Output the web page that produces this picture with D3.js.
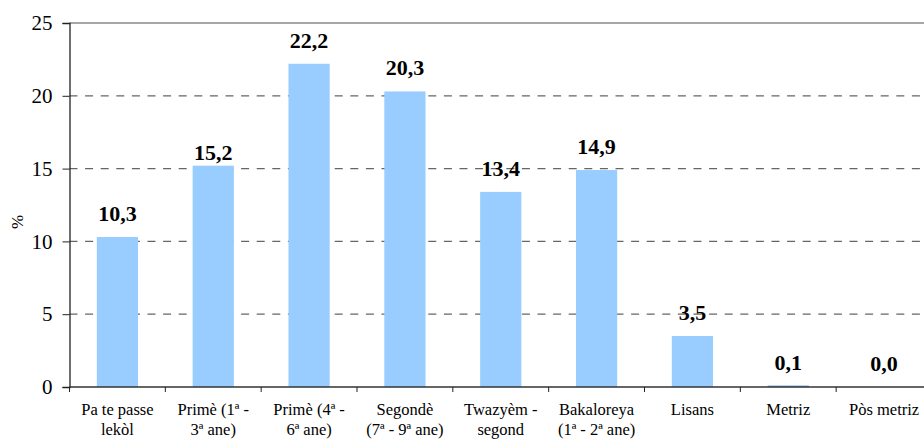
<!DOCTYPE html>
<html><head><meta charset="utf-8">
<script src="https://cdn.jsdelivr.net/npm/d3@7"></script>
<style>body{margin:0;background:#fff}svg{display:block}text{font-family:"Liberation Serif" !important}</style>
</head><body>
<script>
const categories = [
  ["Pa te passe", "lekòl"],
  ["Primè (1ª -", "3ª ane)"],
  ["Primè (4ª -", "6ª ane)"],
  ["Segondè", "(7ª - 9ª ane)"],
  ["Twazyèm -", "segond"],
  ["Bakaloreya", "(1ª - 2ª ane)"],
  ["Lisans"],
  ["Metriz"],
  ["Pòs metriz"]
];
const values = [10.3, 15.2, 22.2, 20.3, 13.4, 14.9, 3.5, 0.1, 0.0];
const yTicks = [0, 5, 10, 15, 20, 25];
const yTitle = "%";

const W = 924, H = 439;
const pLeft = 69.5, pRight = 932, pTop = 23, pBottom = 387;
const svg = d3.select("body").append("svg").attr("width", W).attr("height", H)
  .attr("font-family", "Liberation Serif");
const idx = values.map((d, i) => i);
const x = d3.scaleBand().domain(idx).range([pLeft, pRight]).paddingInner(0.57).paddingOuter(0.285);
const xo = d3.scaleBand().domain(idx).range([pLeft, pRight]).padding(0);
const y = d3.scaleLinear().domain([0, 25]).range([pBottom, pTop]);

svg.append("g").selectAll("line").data(yTicks.filter(t => t > 0 && t < 25)).join("line")
  .attr("x1", pLeft).attr("x2", W).attr("y1", d => y(d)).attr("y2", d => y(d))
  .attr("stroke", "#666").attr("stroke-width", 1.3).attr("stroke-dasharray", "8,7.6");
svg.append("line").attr("x1", pLeft).attr("x2", W).attr("y1", y(25)).attr("y2", y(25))
  .attr("stroke", "#888").attr("stroke-width", 1.5);

svg.append("g").selectAll("rect").data(values).join("rect")
  .attr("x", (d, i) => x(i)).attr("width", x.bandwidth())
  .attr("y", d => y(d)).attr("height", d => pBottom - y(d))
  .attr("fill", d => d < 0.5 ? "#6fa8e6" : "#99ccff");

svg.append("g").selectAll("text").data(values).join("text")
  .attr("x", (d, i) => x(i) + x.bandwidth() / 2)
  .attr("y", (d, i) => y(d) - (i === 1 ? 6 : 16))
  .attr("text-anchor", "middle")
  .attr("font-weight", "bold").attr("font-size", 22)
  .attr("fill", "#000")
  .text(d => d3.format(".1f")(d).replace(".", ","));

const gy = svg.append("g").attr("transform", `translate(${pLeft},0)`)
  .call(d3.axisLeft(y).tickValues(yTicks).tickSize(7).tickPadding(10));
gy.attr("font-family", "Liberation Serif").attr("font-size", 21);
gy.select(".domain").attr("stroke", "#222").attr("stroke-width", 1.3);
gy.selectAll(".tick line").attr("stroke", "#222");
gy.selectAll("text").attr("fill", "#000");

svg.append("line").attr("x1", pLeft).attr("x2", W).attr("y1", pBottom).attr("y2", pBottom)
  .attr("stroke", "#333").attr("stroke-width", 1.6);
svg.append("g").selectAll("line").data(idx).join("line")
  .attr("x1", d => xo(d)).attr("x2", d => xo(d)).attr("y1", pBottom).attr("y2", pBottom + 5)
  .attr("stroke", "#222");
const xl = svg.append("g").selectAll("text").data(categories).join("text")
  .attr("x", (d, i) => x(i) + x.bandwidth() / 2)
  .attr("y", 415)
  .attr("text-anchor", "middle")
  .attr("font-size", 16.5).attr("fill", "#000");
xl.selectAll("tspan").data(d => d).join("tspan")
  .attr("x", function () { return d3.select(this.parentNode).attr("x"); })
  .attr("dy", (d, j) => j === 0 ? 0 : 20)
  .text(d => d);

svg.append("text").attr("transform", "translate(23,222) rotate(-90)")
  .attr("text-anchor", "middle").attr("font-size", 17)
  .text(yTitle);
</script>
</body></html>
